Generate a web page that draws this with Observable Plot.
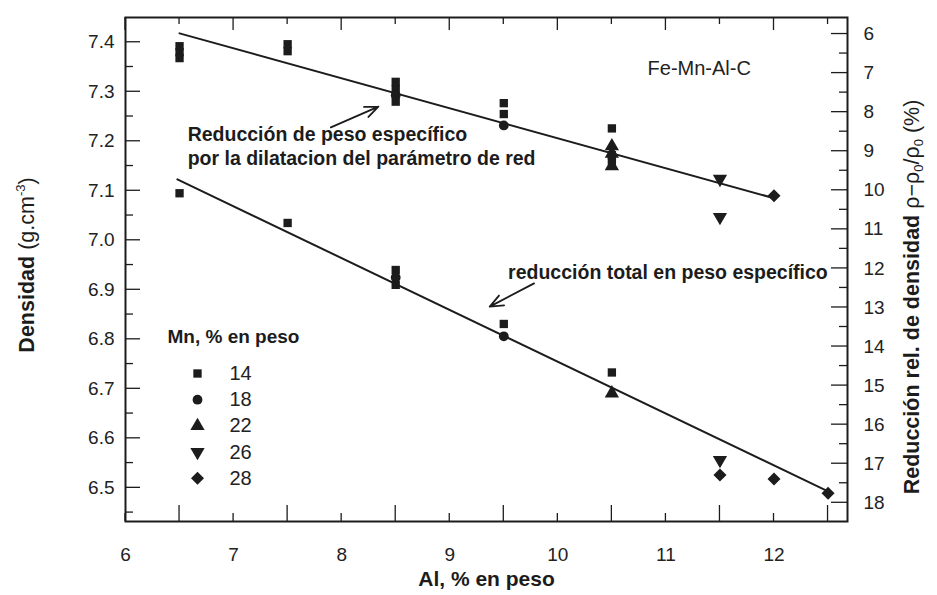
<!DOCTYPE html>
<html>
<head>
<meta charset="utf-8">
<script src="https://cdn.jsdelivr.net/npm/d3@7"></script>
<script src="https://cdn.jsdelivr.net/npm/@observablehq/plot@0.6"></script>
<style>
  body { margin: 0; background: #fff; }
  #chart svg { display: block; }
</style>
</head>
<body>
<div id="chart"></div>
<script>
// ---------- data ----------
const mnLevels  = [14, 18, 22, 26, 28];
const mnSymbols = ["square", "circle", "triangle", "triangle", "square"];
const mnRotate  = [0, 0, 0, 180, 45];
const mnRadius  = [4.7, 4.9, 5.3, 5.3, 5.2];

// upper set: reducción por dilatación del parámetro de red
const latticeAl      = [6.5, 6.5, 6.5, 7.5, 7.5, 8.5, 8.5, 8.5, 8.5, 9.5, 9.5, 9.5, 10.5, 10.5, 10.5, 10.5, 10.5, 10.5, 11.5, 11.5, 12];
const latticeMn      = [14, 14, 14, 14, 14, 14, 14, 14, 18, 14, 14, 18, 14, 14, 14, 22, 22, 22, 26, 26, 28];
const latticeDensity = [7.392, 7.38, 7.368, 7.396, 7.382, 7.32, 7.305, 7.28, 7.293, 7.277, 7.255, 7.232, 7.226, 7.172, 7.16, 7.19, 7.175, 7.15, 7.124, 7.047, 7.09];

// lower set: reducción total en peso específico
const totalAl      = [6.5, 7.5, 8.5, 8.5, 8.5, 9.5, 9.5, 10.5, 10.5, 11.5, 11.5, 12, 12.5];
const totalMn      = [14, 14, 14, 14, 18, 14, 18, 14, 22, 26, 28, 28, 28];
const totalDensity = [7.095, 7.035, 6.94, 6.91, 6.925, 6.831, 6.806, 6.733, 6.691, 6.556, 6.526, 6.518, 6.489];

// fitted lines
const latticeFitAl      = [6.5, 12];
const latticeFitDensity = [7.418, 7.085];
const totalFitAl        = [6.48, 12.5];
const totalFitDensity   = [7.123, 6.493];

// annotations
const arrowFromAl      = [7.9, 9.78];
const arrowFromDensity = [7.228, 6.913];
const arrowToAl        = [8.34, 9.37];
const arrowToDensity   = [7.27, 6.866];
const noteAl      = [6.575, 9.54];
const noteDensity = [7.234, 6.935];
const noteText    = ["Reducción de peso específico\npor la dilatacion del parámetro de red", "reducción total en peso específico"];
const alloyLabel  = "Fe-Mn-Al-C";
const alloyAl = 10.83, alloyDensity = 7.347;

// axes
const xMajorTicks = [6, 7, 8, 9, 10, 11, 12];
const xHalfTicks  = [6.5, 7.5, 8.5, 9.5, 10.5, 11.5, 12.5];
const yMajorTicks = [6.5, 6.6, 6.7, 6.8, 6.9, 7.0, 7.1, 7.2, 7.3, 7.4];
const yMinorTicks = [6.45, 6.55, 6.65, 6.75, 6.85, 6.95, 7.05, 7.15, 7.25, 7.35];
const pctTicks      = [6, 7, 8, 9, 10, 11, 12, 13, 14, 15, 16, 17, 18];
const pctMinorTicks = [6.5, 7.5, 8.5, 9.5, 10.5, 11.5, 12.5, 13.5, 14.5, 15.5, 16.5, 17.5];
const rho0 = 7.89; // reference density for the relative-reduction axis
const xTitle = "Al, % en peso";
const legendTitle = "Mn, % en peso";

// ---------- layout ----------
const W = 937, H = 595;
const mL = 125, mR = 90, mT = 17, mB = 74;

// ---------- build ----------
const toRows = (al, mn, dens) => al.map((a, i) => ({al: a, mn: mn[i], density: dens[i]}));
const points = [...toRows(latticeAl, latticeMn, latticeDensity), ...toRows(totalAl, totalMn, totalDensity)];
const pctToDensity = p => rho0 * (1 - p / 100);
const ink = "#1c1c1c";

const marks = [];
marks.push(Plot.axisX({anchor: "bottom", ticks: xMajorTicks, tickSize: 0, tickPadding: 26, fontSize: 19, tickFormat: d => d, label: null, fill: "#222"}));
marks.push(Plot.axisY({anchor: "left", ticks: yMajorTicks, tickSize: 0, tickPadding: 11, fontSize: 19, tickFormat: d3.format(".1f"), label: null, fill: "#222"}));
marks.push(Plot.axisY({anchor: "right", ticks: pctTicks.map(pctToDensity), tickSize: 0, tickPadding: 16, fontSize: 19, tickFormat: d => Math.round((1 - d / rho0) * 100), label: null, fill: "#222"}));
marks.push(Plot.frame({stroke: ink, strokeWidth: 2}));

// fit lines
marks.push(Plot.line(latticeFitAl.map((a, i) => ({al: a, density: latticeFitDensity[i]})), {x: "al", y: "density", stroke: ink, strokeWidth: 2}));
marks.push(Plot.line(totalFitAl.map((a, i) => ({al: a, density: totalFitDensity[i]})), {x: "al", y: "density", stroke: ink, strokeWidth: 2}));

// data points
mnLevels.forEach((mn, i) => {
  marks.push(Plot.dot(points.filter(d => d.mn === mn), {x: "al", y: "density", symbol: mnSymbols[i], rotate: mnRotate[i], r: mnRadius[i], fill: ink, stroke: "none"}));
});

// annotations
marks.push(Plot.arrow(arrowFromAl.map((a, i) => ({x1: a, y1: arrowFromDensity[i], x2: arrowToAl[i], y2: arrowToDensity[i]})), {x1: "x1", y1: "y1", x2: "x2", y2: "y2", stroke: ink, strokeWidth: 1.8, headLength: 12, headAngle: 45}));
marks.push(Plot.text([0], {x: () => noteAl[0], y: () => noteDensity[0], text: () => noteText[0], textAnchor: "start", lineAnchor: "top", fontSize: 19.5, fontWeight: "bold", lineHeight: 1.23, fill: ink}));
marks.push(Plot.text([0], {x: () => noteAl[1], y: () => noteDensity[1], text: () => noteText[1], textAnchor: "start", lineAnchor: "middle", fontSize: 19.5, fontWeight: "bold", fill: ink}));
marks.push(Plot.text([alloyLabel], {x: () => alloyAl, y: () => alloyDensity, text: d => d, textAnchor: "start", lineAnchor: "middle", fontSize: 20, fill: "#222"}));

// legend (inside the frame)
marks.push(Plot.text([legendTitle], {frameAnchor: "top-left", dx: 42, dy: 319, text: d => d, textAnchor: "start", lineAnchor: "middle", fontSize: 19, fontWeight: "bold", fill: ink}));
mnLevels.forEach((mn, i) => {
  marks.push(Plot.dot([mn], {frameAnchor: "top-left", dx: 72, dy: 356 + i * 26.2, symbol: mnSymbols[i], rotate: mnRotate[i], r: mnRadius[i], fill: ink, stroke: "none"}));
  marks.push(Plot.text([mn], {frameAnchor: "top-left", dx: 104, dy: 356 + i * 26.2, text: d => String(d), textAnchor: "start", lineAnchor: "middle", fontSize: 20, fill: "#222"}));
});

// x title
marks.push(Plot.text([xTitle], {frameAnchor: "bottom", dy: 58, text: d => d, lineAnchor: "middle", fontSize: 21, fontWeight: "bold", fill: ink}));

const chart = Plot.plot({
  width: W, height: H,
  marginLeft: mL, marginRight: mR, marginTop: mT, marginBottom: mB,
  x: {domain: [6, 12.68]},
  y: {domain: [6.432, 7.45]},
  style: {fontFamily: "'Liberation Sans', Arial, Helvetica, sans-serif", background: "#fff", color: ink},
  marks
});
document.getElementById("chart").append(chart);
const svg = d3.select(chart.tagName === "svg" ? chart : chart.querySelector("svg"));

// inward ticks placed through the chart's own scales
const xs = chart.scale("x"), ys = chart.scale("y");
const xL = mL, xR = W - mR, yT = mT, yB = H - mB;
const tg = svg.append("g").attr("stroke", ink).attr("stroke-width", 1.3);
const tick = (x1, y1, x2, y2) => tg.append("line").attr("x1", x1).attr("y1", y1).attr("x2", x2).attr("y2", y2);
xHalfTicks.forEach(v => tick(xs.apply(v), yB, xs.apply(v), yB - 16));
xMajorTicks.forEach(v => tick(xs.apply(v), yB, xs.apply(v), yB - 8));
xMajorTicks.forEach(v => tick(xs.apply(v), yT, xs.apply(v), yT + 13));
xHalfTicks.forEach(v => tick(xs.apply(v), yT, xs.apply(v), yT + 7));
yMajorTicks.forEach(v => tick(xL, ys.apply(v), xL + 15, ys.apply(v)));
yMinorTicks.forEach(v => tick(xL, ys.apply(v), xL + 8, ys.apply(v)));
pctTicks.map(pctToDensity).forEach(v => tick(xR, ys.apply(v), xR - 16, ys.apply(v)));
pctMinorTicks.map(pctToDensity).forEach(v => tick(xR, ys.apply(v), xR - 8, ys.apply(v)));

// mixed-style y titles (real text, with sub/superscripts)
const left = svg.append("text")
  .attr("transform", "translate(34,265) rotate(-90)")
  .attr("text-anchor", "middle")
  .attr("font-family", "'Liberation Sans', Arial, sans-serif")
  .attr("font-size", 21.5)
  .attr("fill", ink);
left.append("tspan").attr("font-weight", "bold").text("Densidad");
left.append("tspan").text(" (g.cm");
left.append("tspan").attr("font-size", 13).attr("dy", -9).text("-3");
left.append("tspan").attr("dy", 9).text(")");

const right = svg.append("text")
  .attr("transform", "translate(919,297) rotate(-90)")
  .attr("text-anchor", "middle")
  .attr("font-family", "'Liberation Sans', Arial, sans-serif")
  .attr("font-size", 21.5)
  .attr("fill", ink);
right.append("tspan").attr("font-weight", "bold").text("Reducción rel. de densidad");
right.append("tspan").text(" ρ−ρ");
right.append("tspan").attr("font-size", 13).attr("dy", 4).text("0");
right.append("tspan").attr("dy", -4).text("/ρ");
right.append("tspan").attr("font-size", 13).attr("dy", 4).text("0");
right.append("tspan").attr("dy", -4).text(" (%)");
</script>
</body>
</html>
